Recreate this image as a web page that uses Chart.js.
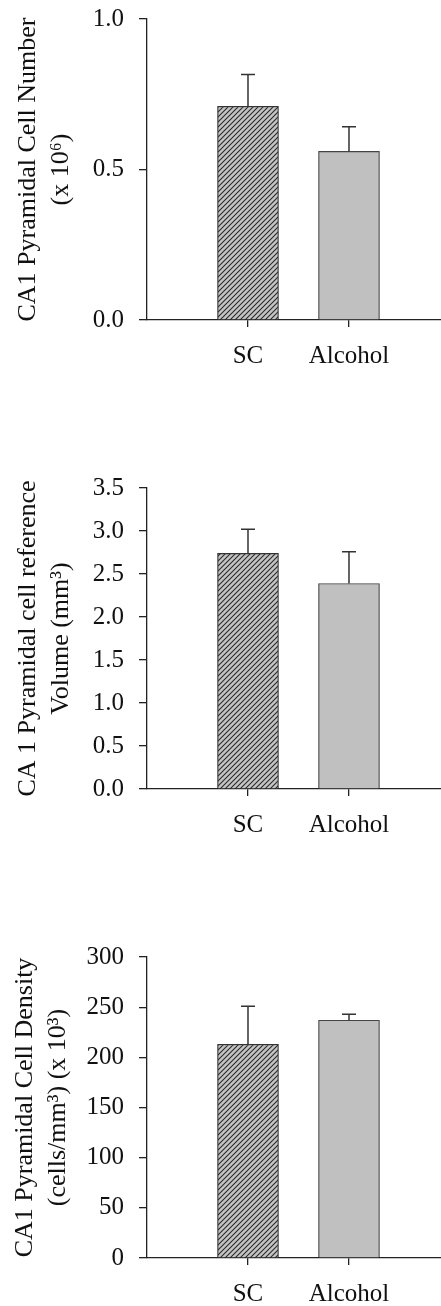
<!DOCTYPE html>
<html>
<head>
<meta charset="utf-8">
<script src="https://cdn.jsdelivr.net/npm/chart.js@4.4.0/dist/chart.umd.min.js"></script>
<style>
  html, body { margin: 0; padding: 0; background: #fff; overflow: hidden; }
  canvas { display: block; }
</style>
</head>
<body>
<canvas id="c1" width="441" height="469"></canvas>
<canvas id="c2" width="441" height="469"></canvas>
<canvas id="c3" width="441" height="368"></canvas>
<script>
// ---- data ----
const categories = ['SC', 'Alcohol'];
const categoryPositions = [1, 2];

const cellNumber = [0.71, 0.56];
const cellNumberErr = [0.106, 0.082];
const cellNumberTicks = [0, 0.5, 1.0];

const refVolume = [2.74, 2.39];
const refVolumeErr = [0.28, 0.37];
const refVolumeTicks = [0, 0.5, 1.0, 1.5, 2.0, 2.5, 3.0, 3.5];

const cellDensity = [213, 237];
const cellDensityErr = [38, 6];
const cellDensityTicks = [0, 50, 100, 150, 200, 250, 300];

const titleNumber = ['CA1 Pyramidal Cell Number', '(x 10\u2076)'];
const titleVolume = ['CA 1 Pyramidal cell reference', 'Volume (mm\u00B3)'];
const titleDensity = ['CA1 Pyramidal Cell Density', '(cells/mm\u00B3) (x 10\u00B3)'];

// ---- styles ----
const FONT = 'Liberation Serif, Times New Roman, serif';
const AXIS = '#222';
const FILL = '#c0c0c0';

function hatchPattern() {
  const s = 5;
  const c = document.createElement('canvas');
  c.width = s; c.height = s;
  const g = c.getContext('2d');
  g.fillStyle = '#c4c4c4';
  g.fillRect(0, 0, s, s);
  g.strokeStyle = '#2a2a2a';
  g.lineWidth = 1.1;
  g.beginPath();
  g.moveTo(0, s); g.lineTo(s, 0);
  g.moveTo(-1, 1); g.lineTo(1, -1);
  g.moveTo(s - 1, s + 1); g.lineTo(s + 1, s - 1);
  g.stroke();
  return g.createPattern(c, 'repeat');
}

const errorBars = {
  id: 'errorBars',
  afterDatasetsDraw(chart, args, opts) {
    const ctx = chart.ctx;
    const xs = chart.scales.x, ys = chart.scales.y;
    const ds = chart.data.datasets[0];
    ctx.save();
    ctx.strokeStyle = '#333';
    ctx.lineWidth = 1.5;
    ds.data.forEach((pt, i) => {
      const e = opts.errors[i];
      const x = xs.getPixelForValue(pt.x);
      const yb = ys.getPixelForValue(pt.y);
      const yt = ys.getPixelForValue(pt.y + e);
      ctx.beginPath();
      ctx.moveTo(x, yb);
      ctx.lineTo(x, yt);
      ctx.moveTo(x - 7, yt);
      ctx.lineTo(x + 7, yt);
      ctx.stroke();
    });
    ctx.restore();
  }
};

function makeChart(id, values, errs, ticks, title, decimals, bottomH, titlePad) {
  const data = values.map((v, i) => ({ x: categoryPositions[i], y: v }));
  return new Chart(document.getElementById(id), {
    type: 'bar',
    data: {
      datasets: [{
        data: data,
        backgroundColor: [hatchPattern(), FILL],
        borderColor: ['#333', '#444'],
        borderWidth: 1.2,
        barThickness: 61,
        borderSkipped: 'bottom'
      }]
    },
    options: {
      responsive: false,
      animation: false,
      devicePixelRatio: 1,
      layout: { padding: { top: 19, left: 0, right: 0, bottom: 0 } },
      plugins: {
        legend: { display: false },
        tooltip: { enabled: false },
        errorBars: { errors: errs }
      },
      scales: {
        x: {
          type: 'linear',
          offset: false,
          min: 0,
          max: 2.911,
          afterBuildTicks: (s) => { s.ticks = categoryPositions.map(v => ({ value: v })); },
          afterFit: (s) => { s.height = bottomH; s.paddingLeft = 0; s.paddingRight = 0; },
          grid: { display: true, offset: false, drawOnChartArea: false, drawTicks: true, tickLength: 7, color: AXIS, lineWidth: 1.3 },
          border: { display: true, color: AXIS, width: 1.3 },
          ticks: {
            padding: 14,
            color: '#111',
            font: { family: FONT, size: 25 },
            callback: (v) => categories[categoryPositions.indexOf(v)] || ''
          }
        },
        y: {
          min: ticks[0],
          max: ticks[ticks.length - 1],
          afterBuildTicks: (s) => { s.ticks = ticks.map(v => ({ value: v })); },
          afterFit: (s) => { s.width = 147; s.paddingTop = 0; s.paddingBottom = 0; },
          grid: { display: true, drawOnChartArea: false, drawTicks: true, tickLength: 8, color: AXIS, lineWidth: 1.3 },
          border: { display: true, color: AXIS, width: 1.3 },
          ticks: {
            padding: 15,
            color: '#111',
            font: { family: FONT, size: 25 },
            callback: (v) => Number(v).toFixed(decimals)
          },
          title: {
            display: true,
            text: title,
            color: '#111',
            font: { family: FONT, size: 26, lineHeight: 1.25 },
            padding: { top: titlePad, bottom: 0 }
          }
        }
      }
    },
    plugins: [errorBars]
  });
}

makeChart('c1', cellNumber, cellNumberErr, cellNumberTicks, titleNumber, 1, 149, 12);
makeChart('c2', refVolume, refVolumeErr, refVolumeTicks, titleVolume, 1, 149, 12);
makeChart('c3', cellDensity, cellDensityErr, cellDensityTicks, titleDensity, 0, 48, 9);
</script>
</body>
</html>
